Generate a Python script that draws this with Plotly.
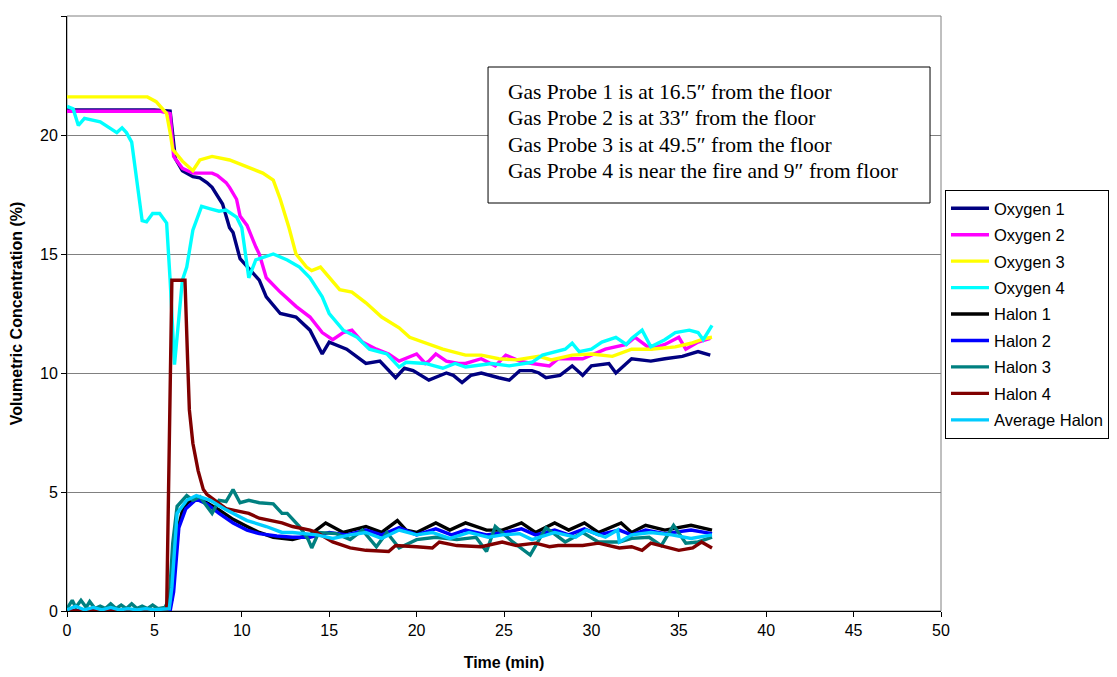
import plotly.graph_objects as go

# (time min, volumetric concentration %)
OXYGEN_1 = [(0, 21.05), (2.5, 21.05), (5.0, 21.05), (5.9, 21.0), (6.05, 19.9), (6.2, 19.0), (6.6, 18.5),
            (7.2, 18.25), (7.6, 18.2), (8.0, 18.0), (8.3, 17.8), (8.9, 17.1), (9.3, 16.1), (9.5, 15.9),
            (9.9, 14.8), (10.4, 14.4), (11.0, 13.9), (11.4, 13.2), (12.2, 12.5), (13.1, 12.35), (13.9, 11.8),
            (14.6, 10.8), (15.0, 11.3), (16.0, 11.0), (17.1, 10.4), (17.9, 10.5), (18.8, 9.8), (19.3, 10.2),
            (19.8, 10.1), (20.7, 9.7), (21.7, 10.0), (22.1, 9.9), (22.6, 9.6), (23.1, 9.9), (23.7, 10.0),
            (24.7, 9.8), (25.3, 9.7), (25.9, 10.1), (26.6, 10.1), (27.0, 10.0), (27.4, 9.8), (28.2, 9.9),
            (28.9, 10.3), (29.5, 9.9), (30.0, 10.3), (31.0, 10.4), (31.4, 10.0), (32.3, 10.6), (33.4, 10.5),
            (34.2, 10.6), (35.2, 10.7), (36.1, 10.9), (36.8, 10.75)]
OXYGEN_2 = [(0, 21.0), (3.0, 21.0), (5.3, 21.0), (5.9, 20.9), (6.1, 19.1), (6.6, 18.6), (7.2, 18.4),
            (7.6, 18.4), (8.3, 18.4), (8.6, 18.3), (9.1, 18.0), (9.3, 17.8), (9.7, 17.3), (9.9, 16.6),
            (10.3, 16.2), (10.8, 15.3), (11.0, 15.0), (11.4, 14.0), (12.2, 13.4), (13.1, 12.8), (13.9, 12.35),
            (14.6, 11.7), (15.2, 11.4), (15.8, 11.7), (16.3, 11.8), (16.9, 11.3), (17.7, 11.0), (18.4, 10.8),
            (19.0, 10.5), (20.0, 10.8), (20.5, 10.4), (20.7, 10.5), (21.1, 10.8), (21.7, 10.5), (22.4, 10.4),
            (22.8, 10.4), (23.7, 10.6), (24.5, 10.3), (25.1, 10.75), (25.9, 10.5), (26.6, 10.4), (27.6, 10.3),
            (28.1, 10.6), (29.5, 10.6), (30.8, 11.0), (32.0, 11.2), (32.5, 11.5), (33.4, 11.0), (34.2, 11.2),
            (35.0, 11.5), (35.4, 11.0), (36.1, 11.3), (36.8, 11.45)]
OXYGEN_3 = [(0, 21.6), (2.0, 21.6), (4.6, 21.6), (5.1, 21.4), (5.7, 20.9), (5.9, 20.1), (6.05, 19.4),
            (6.6, 18.9), (7.2, 18.5), (7.6, 18.95), (8.3, 19.1), (9.3, 18.95), (10.3, 18.65), (11.2, 18.4),
            (11.8, 18.1), (12.2, 17.3), (12.7, 16.1), (13.1, 15.0), (13.7, 14.45), (14.0, 14.3), (14.5, 14.45),
            (14.8, 14.2), (15.6, 13.5), (16.3, 13.4), (17.1, 12.95), (18.0, 12.35), (19.0, 11.9), (19.6, 11.5),
            (20.5, 11.25), (21.5, 11.0), (22.8, 10.75), (23.7, 10.75), (24.7, 10.6), (25.7, 10.55), (27.0, 10.7),
            (27.7, 10.55), (28.9, 10.75), (30.0, 10.8), (31.2, 10.7), (32.3, 11.0), (33.4, 11.0), (34.8, 11.1),
            (35.7, 11.25), (36.5, 11.45), (36.9, 11.5)]
OXYGEN_4 = [(0, 21.2), (0.35, 21.1), (0.65, 20.4), (1.0, 20.7), (1.9, 20.55), (2.45, 20.3), (2.85, 20.1),
            (3.15, 20.3), (3.4, 20.1), (3.7, 19.7), (4.0, 18.1), (4.3, 16.4), (4.55, 16.35), (4.9, 16.7),
            (5.3, 16.7), (5.7, 16.3), (5.9, 13.9), (6.15, 10.35), (6.6, 13.9), (6.85, 14.45), (7.2, 16.0),
            (7.7, 17.0), (8.2, 16.9), (8.7, 16.8), (9.1, 16.85), (9.7, 16.55), (10.0, 16.1), (10.4, 14.0),
            (10.8, 14.75), (11.4, 14.9), (11.8, 15.0), (12.6, 14.75), (13.3, 14.45), (13.9, 14.0), (14.6, 13.2),
            (15.0, 12.5), (15.8, 11.8), (16.6, 11.5), (17.3, 11.0), (18.3, 10.8), (19.0, 10.25), (19.4, 10.45),
            (20.5, 10.4), (21.5, 10.2), (22.2, 10.4), (22.8, 10.25), (24.3, 10.4), (25.3, 10.3), (26.6, 10.45),
            (27.2, 10.75), (28.0, 10.9), (28.5, 11.0), (28.9, 11.25), (29.3, 10.9), (30.0, 11.0), (30.6, 11.3),
            (31.4, 11.5), (32.0, 11.2), (32.3, 11.45), (32.9, 11.8), (33.4, 11.1), (34.2, 11.4), (34.8, 11.7),
            (35.6, 11.8), (36.1, 11.7), (36.4, 11.4), (36.9, 12.0)]
HALON_1 = [(0, 0.0), (5.8, 0.0), (6.0, 0.5), (6.3, 3.3), (6.6, 4.2), (6.9, 4.55), (7.4, 4.75), (8.0, 4.55),
           (8.7, 4.25), (9.5, 3.85), (10.3, 3.55), (11.0, 3.3), (11.8, 3.1), (12.9, 3.0), (13.9, 3.2),
           (14.8, 3.7), (15.8, 3.3), (16.5, 3.45), (17.1, 3.55), (18.0, 3.3), (18.9, 3.8), (19.4, 3.4),
           (20.0, 3.3), (21.1, 3.7), (21.9, 3.4), (22.8, 3.7), (24.0, 3.4), (24.9, 3.4), (26.0, 3.7),
           (26.8, 3.3), (27.9, 3.7), (28.7, 3.4), (29.6, 3.7), (30.4, 3.3), (31.7, 3.7), (32.3, 3.3),
           (33.1, 3.6), (34.2, 3.4), (35.7, 3.6), (36.9, 3.4)]
HALON_2 = [(0, 0.0), (5.9, 0.0), (6.1, 0.8), (6.4, 3.5), (6.8, 4.3), (7.4, 4.7), (8.0, 4.5), (8.7, 4.1),
           (9.5, 3.7), (10.3, 3.4), (11.0, 3.25), (12.0, 3.15), (12.9, 3.1), (13.9, 3.1), (15.0, 3.3),
           (16.0, 3.2), (17.1, 3.4), (18.0, 3.2), (19.0, 3.5), (20.0, 3.2), (21.1, 3.45), (22.0, 3.2),
           (22.8, 3.4), (24.0, 3.2), (25.0, 3.3), (26.0, 3.45), (26.8, 3.2), (27.9, 3.4), (28.7, 3.2),
           (29.6, 3.45), (30.4, 3.2), (31.6, 3.4), (32.3, 3.2), (33.1, 3.4), (34.2, 3.25), (35.7, 3.4),
           (36.9, 3.25)]
HALON_3 = [(0, 0.1), (0.3, 0.45), (0.5, 0.15), (0.8, 0.45), (1.1, 0.15), (1.3, 0.4), (1.6, 0.1), (1.9, 0.2),
           (2.2, 0.1), (2.5, 0.3), (2.8, 0.1), (3.1, 0.25), (3.4, 0.1), (3.7, 0.3), (4.0, 0.1), (4.3, 0.2),
           (4.6, 0.1), (4.9, 0.25), (5.2, 0.1), (5.6, 0.15), (5.85, 0.5), (6.05, 2.85), (6.3, 4.4), (6.6, 4.65),
           (6.85, 4.85), (7.2, 4.65), (7.6, 4.8), (8.0, 4.4), (8.3, 4.1), (8.7, 4.65), (9.1, 4.6), (9.5, 5.1),
           (9.9, 4.55), (10.4, 4.65), (11.0, 4.55), (11.8, 4.5), (12.3, 4.1), (12.6, 4.1), (13.3, 3.55),
           (13.8, 3.0), (14.0, 2.65), (14.4, 3.3), (15.4, 3.25), (16.2, 3.0), (16.9, 3.4), (17.7, 2.7),
           (18.3, 3.3), (19.0, 2.65), (20.0, 3.0), (21.1, 3.1), (22.3, 3.0), (23.4, 3.1), (24.0, 2.5),
           (24.5, 3.55), (25.5, 2.9), (26.5, 2.35), (27.4, 3.5), (28.5, 2.9), (29.5, 3.3), (30.4, 2.9),
           (31.6, 2.9), (32.3, 3.05), (33.3, 3.1), (34.0, 2.75), (34.7, 3.6), (35.4, 2.85), (36.1, 2.9),
           (36.9, 3.1)]
HALON_4 = [(0, 0.0), (5.7, 0.0), (6.0, 13.9), (6.75, 13.9), (6.9, 10.55), (7.0, 8.45), (7.2, 7.05), (7.5, 5.9),
           (7.8, 5.1), (8.0, 4.9), (9.1, 4.3), (10.4, 4.1), (11.0, 3.9), (12.3, 3.7), (12.9, 3.55), (13.9, 3.4),
           (14.3, 3.3), (15.2, 2.9), (16.2, 2.65), (17.1, 2.55), (18.4, 2.5), (18.8, 2.75), (20.0, 2.7),
           (20.9, 2.65), (21.3, 2.9), (22.3, 2.75), (23.7, 2.7), (24.9, 2.9), (25.7, 2.75), (26.8, 2.85),
           (27.6, 2.7), (28.1, 2.75), (29.5, 2.75), (30.4, 2.85), (31.6, 2.65), (32.3, 2.7), (32.9, 2.55),
           (33.4, 2.85), (35.0, 2.55), (35.8, 2.65), (36.3, 2.9), (36.9, 2.65)]
AVERAGE_HALON = [(0, 0.05), (0.5, 0.2), (1.0, 0.05), (1.5, 0.15), (2.0, 0.05), (2.5, 0.15), (3.0, 0.05),
                 (3.5, 0.1), (4.0, 0.05), (4.5, 0.1), (5.0, 0.05), (5.85, 0.1), (6.0, 1.0), (6.3, 4.1),
                 (6.85, 4.65), (7.4, 4.85), (8.2, 4.65), (9.1, 4.25), (10.3, 3.8), (11.4, 3.55), (12.3, 3.3),
                 (12.9, 3.3), (14.3, 3.2), (15.2, 3.05), (16.2, 3.2), (17.1, 3.3), (18.0, 3.05), (19.0, 3.4),
                 (20.0, 3.2), (20.9, 3.3), (21.9, 3.05), (23.0, 3.3), (24.1, 3.1), (24.9, 3.2), (25.9, 3.25),
                 (26.6, 3.0), (27.9, 3.3), (29.1, 3.1), (29.7, 3.4), (30.8, 3.1), (31.5, 3.4), (31.6, 2.9),
                 (32.3, 3.2), (33.4, 3.3), (34.6, 3.2), (35.7, 3.05), (36.9, 3.2)]

SERIES = [
    ("Oxygen 1", OXYGEN_1, "#000080"),
    ("Oxygen 2", OXYGEN_2, "#FF00FF"),
    ("Oxygen 3", OXYGEN_3, "#FFFF00"),
    ("Oxygen 4", OXYGEN_4, "#00FFFF"),
    ("Halon 1", HALON_1, "#000000"),
    ("Halon 2", HALON_2, "#0000FF"),
    ("Halon 3", HALON_3, "#008080"),
    ("Halon 4", HALON_4, "#800000"),
    ("Average Halon", AVERAGE_HALON, "#00CCFF"),
]

NOTE_LINES = [
    "Gas Probe 1 is at 16.5\u2033 from the floor",
    "Gas Probe 2 is at 33\u2033 from the floor",
    "Gas Probe 3 is at 49.5\u2033 from the floor",
    "Gas Probe 4 is near the fire and 9\u2033 from floor",
]

SANS = "Liberation Sans, Arial, sans-serif"
SERIF = "Liberation Serif, Times New Roman, serif"

# the page body adds an 8px offset, so the figure is sized 8px smaller
W, H = 1109, 669
L, R, T, B = 59, 174, 8, 66
PW, PH = W - L - R, H - T - B


def px_x(x):
    return (x - 8 - L) / PW


def px_y(y):
    return (H - B - (y - 8)) / PH


fig = go.Figure()
for name, pts, color in SERIES:
    fig.add_trace(go.Scatter(
        x=[p[0] for p in pts], y=[p[1] for p in pts],
        mode="lines", name=name, legendgroup=name,
        line=dict(color=color, width=3.4),
    ))

fig.update_layout(
    width=W, height=H,
    paper_bgcolor="white", plot_bgcolor="white",
    margin=dict(l=L, r=R, t=T, b=B),
    font=dict(family=SANS, size=16, color="black"),
    showlegend=True,
    legend=dict(
        x=px_x(947), y=px_y(190), xanchor="left", yanchor="top",
        bgcolor="white", bordercolor="black", borderwidth=1,
        font=dict(family=SANS, size=16.5, color="black"),
        tracegroupgap=2, itemwidth=38,
    ),
    xaxis=dict(
        range=[0, 50], dtick=5, tick0=0, showgrid=False, zeroline=False, automargin=False,
        showline=True, linecolor="black", linewidth=1,
        ticks="outside", ticklen=5, tickcolor="black",
        tickfont=dict(family=SANS, size=16),
        title=dict(text="<b>Time (min)</b>", font=dict(family=SANS, size=16), standoff=18),
    ),
    yaxis=dict(
        range=[0, 25], dtick=5, tick0=0, showgrid=True, gridcolor="#808080", gridwidth=1,
        zeroline=False, showline=True, linecolor="black", linewidth=1, automargin=False,
        ticks="outside", ticklen=5, tickcolor="black",
        tickfont=dict(family=SANS, size=16),
        title=dict(text="<b>Volumetric Concentration (%)</b>", font=dict(family=SANS, size=16), standoff=15),
    ),
)

# gray frame on top/right of the plot area
fig.add_shape(type="rect", xref="paper", yref="paper", x0=0, y0=0, x1=1, y1=1,
              line=dict(color="#808080", width=1), layer="below")

# note box
fig.add_shape(type="rect", xref="paper", yref="paper",
              x0=px_x(489), x1=px_x(932), y0=px_y(203), y1=px_y(67),
              line=dict(color="black", width=1), fillcolor="white", layer="above")
for i, line in enumerate(NOTE_LINES):
    fig.add_annotation(
        xref="paper", yref="paper", x=px_x(507), y=px_y(92 + 26.3 * i),
        xanchor="left", yanchor="middle", showarrow=False, align="left",
        text=line, font=dict(family=SERIF, size=21.5, color="black"),
    )

fig.write_html("out.html")
